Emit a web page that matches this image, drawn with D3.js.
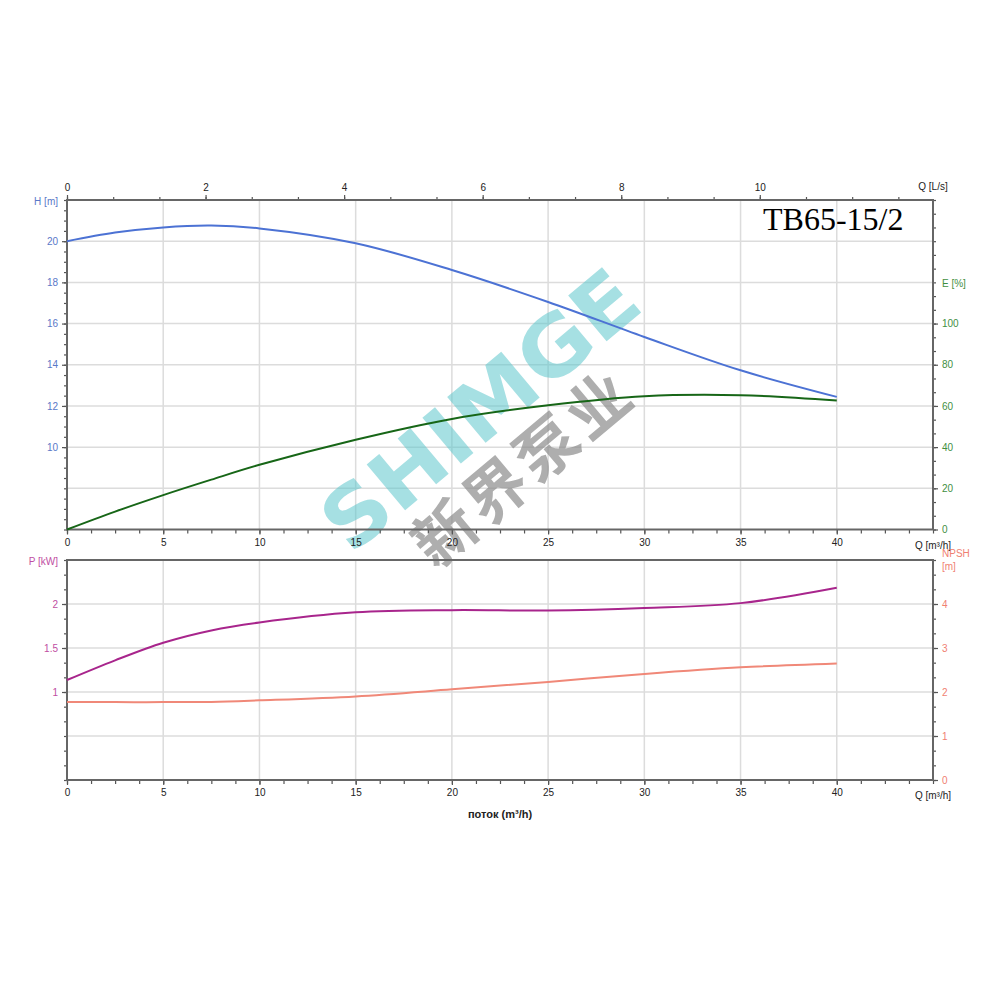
<!DOCTYPE html>
<html>
<head>
<meta charset="utf-8">
<script src="https://cdn.jsdelivr.net/npm/d3@7"></script>
<style>
  body { margin: 0; background: #fff; }
  svg text { font-family: "Liberation Sans", Arial, sans-serif; }
</style>
</head>
<body>
<div id="chart"></div>
<script>
// pump curve data, flow in m3/h
var flowQ = [0, 2.5, 5, 7.5, 10, 15, 20, 25, 30, 35, 40];
var headH = [20.0, 20.42, 20.67, 20.76, 20.62, 19.9, 18.6, 17.05, 15.35, 13.73, 12.44];
var effE = [0, 8.7, 16.7, 24.2, 31.4, 43.6, 53.7, 60.3, 64.7, 65.2, 62.6];
var powerP = [1.136, 1.36, 1.56, 1.70, 1.79, 1.905, 1.93, 1.926, 1.955, 2.01, 2.185];
var npshN = [1.77, 1.77, 1.77, 1.775, 1.81, 1.90, 2.06, 2.23, 2.41, 2.56, 2.65];

// tick labels
var qTicks = [0, 5, 10, 15, 20, 25, 30, 35, 40];
var lsTicks = [0, 2, 4, 6, 8, 10];
var hTicks = [10, 12, 14, 16, 18, 20];
var eTicks = [0, 20, 40, 60, 80, 100];
var pTicks = [1, 1.5, 2];
var nTicks = [0, 1, 2, 3, 4];

var title = "TB65-15/2";

var width = 1000, height = 1000;
var left = 67, right = 933;
var top1 = 200, bot1 = 529.5;
var top2 = 560, bot2 = 780;

var svg = d3.select("#chart").append("svg")
    .attr("width", width)
    .attr("height", height);

// scales
var x = d3.scaleLinear().domain([0, 45]).range([left, right]);
var xLs = d3.scaleLinear().domain([0, 12.5]).range([left, right]);
var yH = d3.scaleLinear().domain([6, 22]).range([bot1, top1]);
var yE = d3.scaleLinear().domain([0, 160]).range([bot1, top1]);
var yP = d3.scaleLinear().domain([0, 2.5]).range([bot2, top2]);
var yN = d3.scaleLinear().domain([0, 5]).range([bot2, top2]);

function steps(a, b, s) {
    var out = [];
    for (var i = 0; a + i * s <= b + 1e-9; i++) out.push(a + i * s);
    return out;
}

// grid
var grid = svg.append("g").attr("stroke", "#dcdcdc").attr("stroke-width", 1.5);
[5, 10, 15, 20, 25, 30, 35, 40].forEach(function(q) {
    grid.append("line").attr("x1", x(q)).attr("x2", x(q)).attr("y1", top1).attr("y2", bot1);
    grid.append("line").attr("x1", x(q)).attr("x2", x(q)).attr("y1", top2).attr("y2", bot2);
});
[8, 10, 12, 14, 16, 18, 20].forEach(function(h) {
    grid.append("line").attr("x1", left).attr("x2", right).attr("y1", yH(h)).attr("y2", yH(h));
});
[0.5, 1, 1.5, 2].forEach(function(p) {
    grid.append("line").attr("x1", left).attr("x2", right).attr("y1", yP(p)).attr("y2", yP(p));
});

// watermark
svg.append("text")
    .attr("transform", "translate(480,410) rotate(-40)")
    .attr("text-anchor", "middle")
    .attr("dy", "0.35em")
    .attr("textLength", 385)
    .attr("lengthAdjust", "spacingAndGlyphs")
    .style("font-family", "'DejaVu Sans', sans-serif")
    .style("font-weight", "bold")
    .style("font-size", "82px")
    .attr("fill", "#5ec7cd")
    .attr("opacity", 0.55)
    .text("SHIMGE");

svg.append("text")
    .attr("transform", "translate(522,470) rotate(-40)")
    .attr("text-anchor", "middle")
    .attr("dy", "0.35em")
    .attr("textLength", 262)
    .attr("lengthAdjust", "spacing")
    .style("font-family", "'Noto Sans CJK SC', sans-serif")
    .style("font-weight", "bold")
    .style("font-size", "62px")
    .attr("fill", "#8c8c8c")
    .attr("opacity", 0.7)
    .text("新界泵业");

// axes helper
function drawAxis(axisFn, scale, pos, major, minor, majorSize, minorSize, color, fmt) {
    var g = svg.append("g").attr("transform", pos);
    g.call(axisFn(scale).tickValues(minor).tickSize(minorSize).tickFormat(""));
    var m = svg.append("g").attr("transform", pos);
    m.call(axisFn(scale).tickValues(major).tickSize(majorSize).tickPadding(4)
        .tickFormat(fmt || function(d) { return d; }));
    [g, m].forEach(function(s) {
        s.select(".domain").remove();
        s.selectAll(".tick line").attr("stroke", "#555").attr("stroke-width", 1.2);
    });
    m.selectAll(".tick text").attr("fill", color).style("font-size", "10px")
        .style("font-family", "'Liberation Sans', Arial, sans-serif");
    return m;
}

// top chart axes
drawAxis(d3.axisTop, xLs, "translate(0," + top1 + ")", lsTicks, steps(0, 12.5, 2 / 3), 5, 3, "#222");
drawAxis(d3.axisBottom, x, "translate(0," + bot1 + ")", qTicks, steps(0, 45, 1.25), 5, 4, "#222");
drawAxis(d3.axisLeft, yH, "translate(" + left + ",0)", hTicks, steps(6, 22, 0.5), 5, 3, "#5a78c8");
drawAxis(d3.axisRight, yE, "translate(" + right + ",0)", eTicks, steps(0, 160, 20 / 3), 5, 3, "#3f8f3f");

// bottom chart axes
drawAxis(d3.axisBottom, x, "translate(0," + bot2 + ")", qTicks, steps(0, 45, 1.25), 5, 4, "#222");
drawAxis(d3.axisLeft, yP, "translate(" + left + ",0)", pTicks, steps(0, 2.5, 1 / 6), 5, 3, "#c04ea2");
drawAxis(d3.axisRight, yN, "translate(" + right + ",0)", nTicks, steps(0, 5, 1 / 3), 5, 3, "#f07f72");

// frames
var frame = svg.append("g").attr("fill", "none").attr("stroke", "#666").attr("stroke-width", 2);
frame.append("rect").attr("x", left).attr("y", top1).attr("width", right - left).attr("height", bot1 - top1);
frame.append("rect").attr("x", left).attr("y", top2).attr("width", right - left).attr("height", bot2 - top2);

// curves
function curve(values, yScale, color) {
    var line = d3.line()
        .x(function(d, i) { return x(flowQ[i]); })
        .y(function(d) { return yScale(d); })
        .curve(d3.curveCatmullRom.alpha(0.5));
    svg.append("path")
        .datum(values)
        .attr("fill", "none")
        .attr("stroke", color)
        .attr("stroke-width", 2)
        .attr("d", line);
}
curve(headH, yH, "#4c72d4");
curve(effE, yE, "#176617");
curve(powerP, yP, "#a8258c");
curve(npshN, yN, "#f08878");

// axis titles
function label(tx, ty, txt, color, anchor) {
    return svg.append("text")
        .attr("x", tx).attr("y", ty)
        .attr("dy", "0.35em")
        .attr("text-anchor", anchor || "start")
        .attr("fill", color)
        .style("font-size", "10px")
        .text(txt);
}
label(933, 186, "Q [L/s]", "#222", "middle");
label(58, 201, "H [m]", "#5a78c8", "end");
label(942, 283, "E [%]", "#3f8f3f");
label(933, 545, "Q [m³/h]", "#222", "middle");
label(58, 561, "P [kW]", "#c04ea2", "end");
label(942, 553, "NPSH", "#f07f72");
label(942, 566, "[m]", "#f07f72");
label(933, 795, "Q [m³/h]", "#222", "middle");
label(500, 814, "поток (m³/h)", "#222", "middle")
    .style("font-size", "11px").style("font-weight", "bold");

// title
svg.append("text")
    .attr("x", 763).attr("y", 230)
    .style("font-family", "'Liberation Serif', 'Times New Roman', serif")
    .style("font-size", "32px")
    .attr("fill", "#000")
    .text(title);
</script>
</body>
</html>
